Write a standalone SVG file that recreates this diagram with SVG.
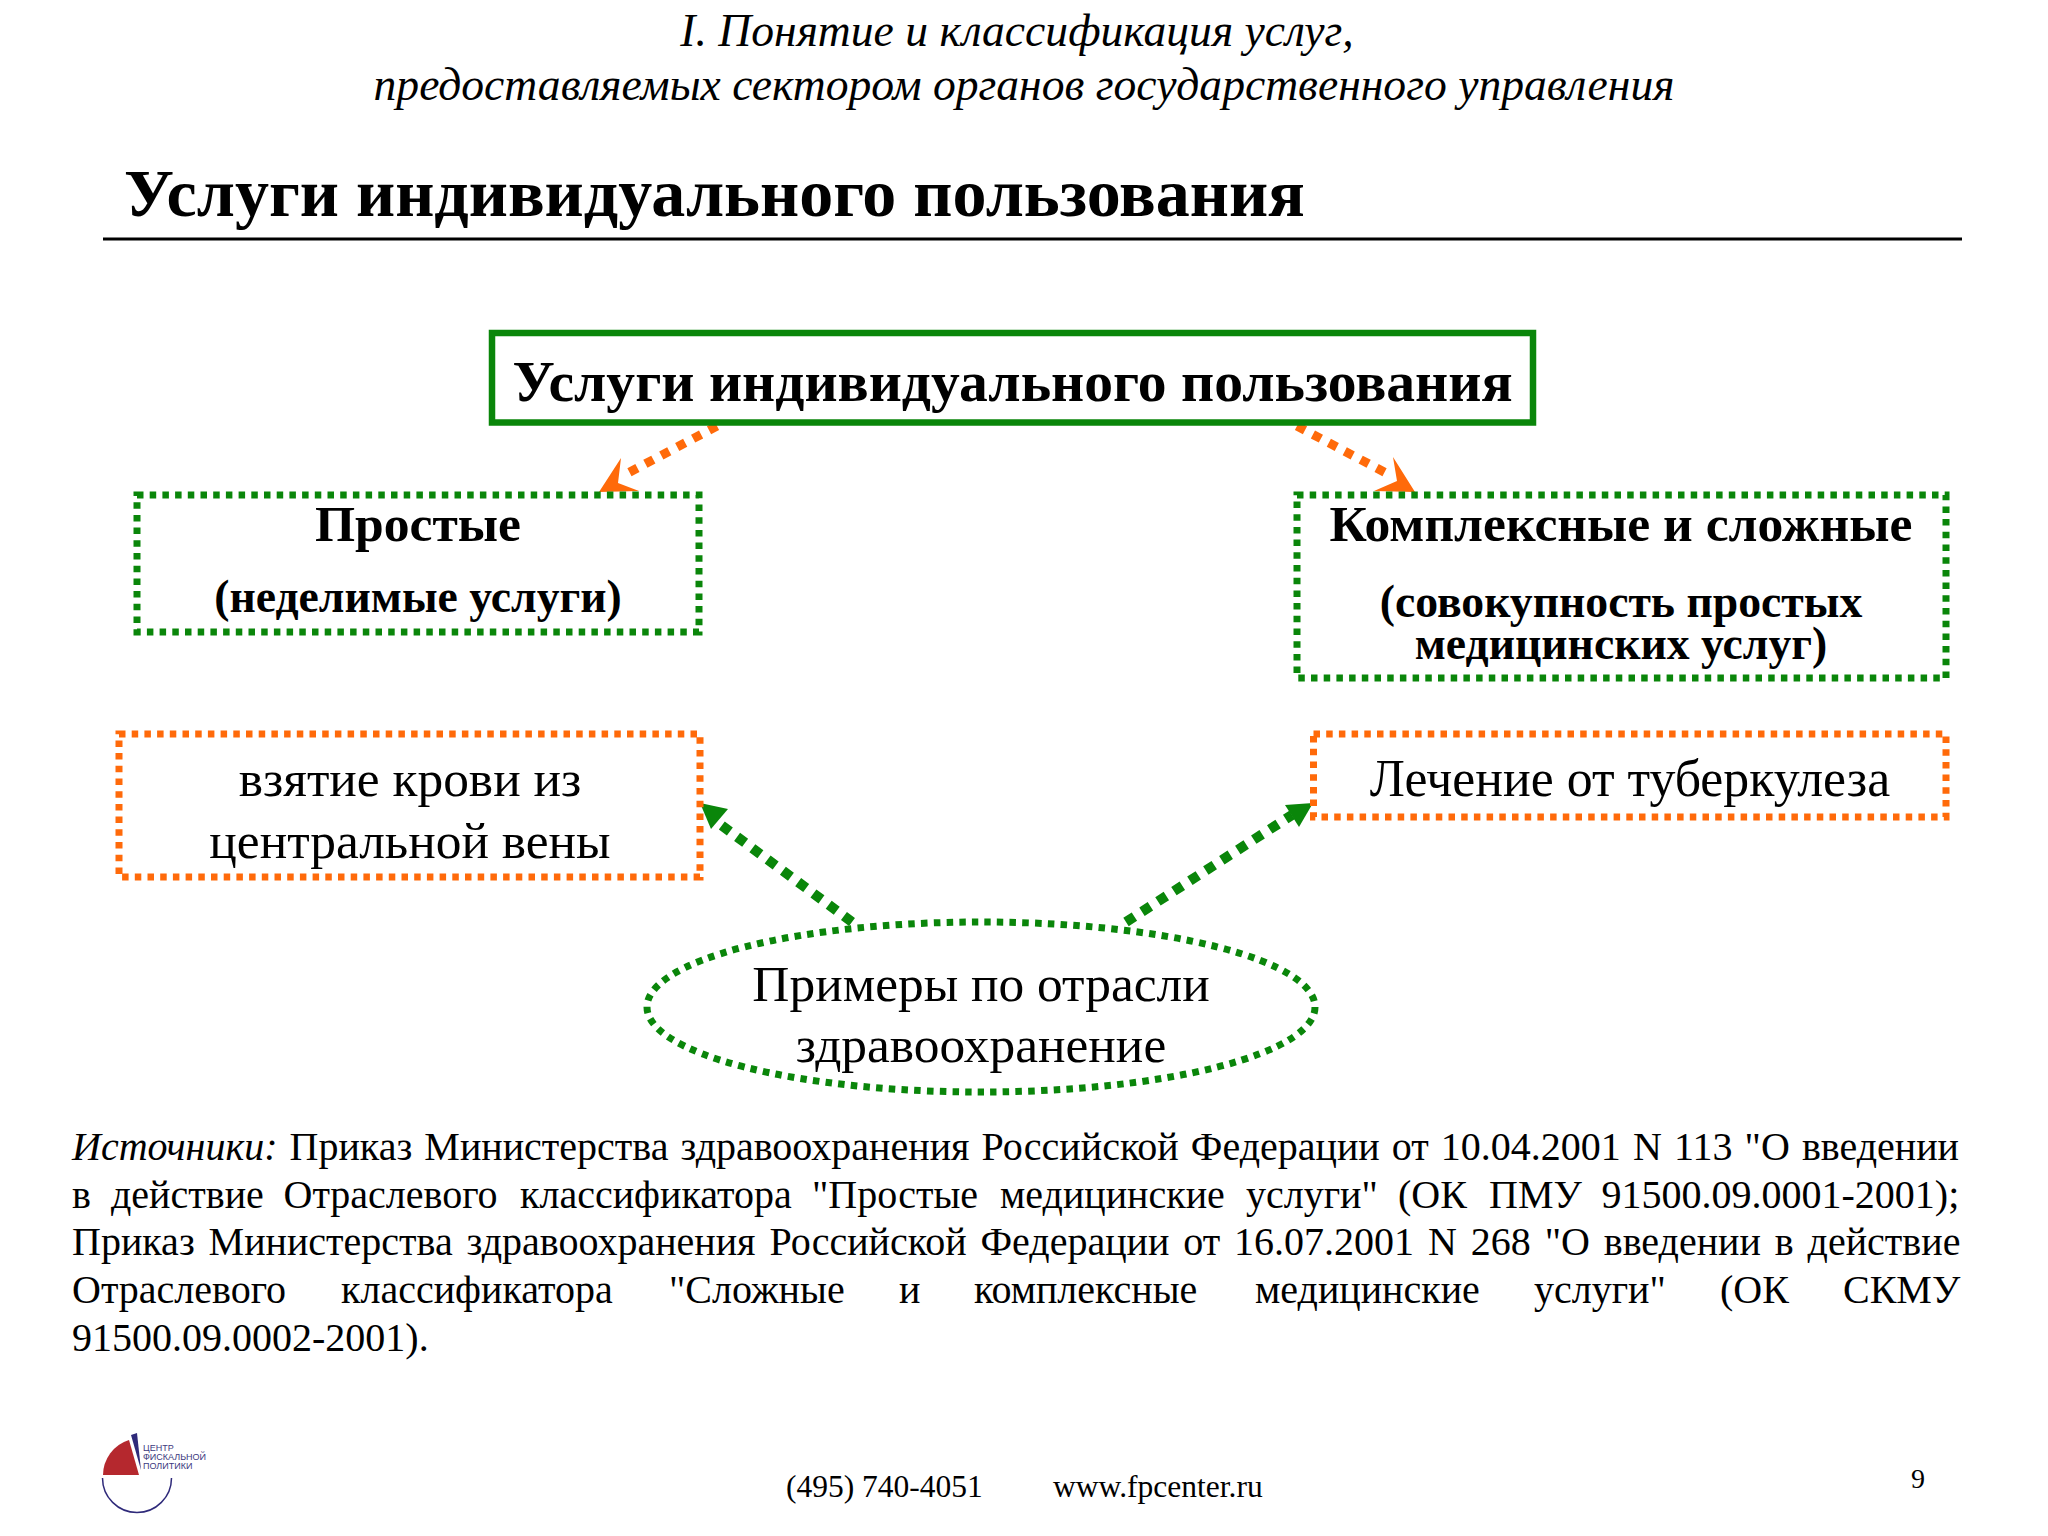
<svg xmlns="http://www.w3.org/2000/svg" width="2048" height="1536" viewBox="0 0 2048 1536">
<style>
text{font-family:"Liberation Serif","Times New Roman",serif;fill:#000}
.m{text-anchor:middle}
.b{font-weight:bold}
.t{font-style:italic;font-size:45.600px}
.n{font-size:51.400px}
.h2{font-size:51.600px;font-weight:bold}
.h3{font-size:45.700px;font-weight:bold}
.s{font-size:40px}
.g{fill:none;stroke:#0a860a;stroke-width:7;stroke-dasharray:6.500 6.200}
.o{fill:none;stroke:#ff6a0a;stroke-width:7;stroke-dasharray:6.500 6.200}
.cg{fill:none;stroke:#0a860a;stroke-width:10;stroke-dasharray:10 9}
.co{fill:none;stroke:#ff6a0a;stroke-width:9;stroke-dasharray:9 9}
.lg{font-family:"Liberation Sans",Arial,sans-serif;font-size:9px;fill:#3d3a80}
</style>
<rect width="2048" height="1536" fill="#fff"/>
<g id="header">
<text class="t m" x="1017" y="46">I. Понятие и классификация услуг,</text>
<text class="t m" x="1024" y="100">предоставляемых сектором органов государственного управления</text>
<text class="b" x="124" y="216" font-size="68">Услуги индивидуального пользования</text>
<line x1="103" y1="239" x2="1962" y2="239" stroke="#000" stroke-width="3"/>
</g>
<g id="connectors">
<line class="co" x1="717" y1="426" x2="628" y2="473"/>
<polygon points="599,492 621,458 618,483 639,491" fill="#ff6a0a"/>
<line class="co" x1="1297" y1="426" x2="1386" y2="473"/>
<polygon points="1415,492 1393,457 1397,481 1374,491" fill="#ff6a0a"/>
<line class="cg" x1="852" y1="922" x2="717" y2="822"/>
<polygon points="700,803 728,809 711,829" fill="#0a860a"/>
<line class="cg" x1="1126" y1="922" x2="1292" y2="815"/>
<polygon points="1313,803 1285,805 1299,827" fill="#0a860a"/>
</g>
<g id="node-root">
<rect x="492" y="333" width="1041" height="89.500" fill="none" stroke="#0a860a" stroke-width="6.500"/>
<text class="b m" x="1012.500" y="401" font-size="57.600">Услуги индивидуального пользования</text>
</g>
<g id="node-simple">
<rect class="g" x="137" y="495" width="562" height="137"/>
<text class="h2 m" x="418" y="541">Простые</text>
<text class="h3 m" x="418" y="612">(неделимые услуги)</text>
</g>
<g id="node-complex">
<rect class="g" x="1297" y="495" width="649" height="183"/>
<text class="h2 m" x="1621" y="541">Комплексные и сложные</text>
<text class="h3 m" x="1621" y="617">(совокупность простых</text>
<text class="h3 m" x="1621" y="659">медицинских услуг)</text>
</g>
<g id="node-blood">
<rect class="o" x="119" y="734" width="581" height="143"/>
<text class="n m" x="410" y="796">взятие крови из</text>
<text class="n m" x="410" y="858">центральной вены</text>
</g>
<g id="node-tb">
<rect class="o" x="1313.500" y="734" width="632.500" height="83"/>
<text class="n m" x="1630" y="796" font-size="51.800" style="font-size:51.800px">Лечение от туберкулеза</text>
</g>
<g id="node-examples">
<ellipse class="g" cx="981" cy="1007" rx="334" ry="85"/>
<text class="n m" x="981" y="1001">Примеры по отрасли</text>
<text class="n m" x="981" y="1062">здравоохранение</text>
</g>
<g id="sources">
<text class="s" y="1160" word-spacing="2.100"><tspan x="72" font-style="italic">Источники:</tspan> Приказ Министерства здравоохранения Российской Федерации от 10.04.2001 N 113 "О введении</text>
<text class="s" y="1208"><tspan x="72">в</tspan><tspan x="111">действие</tspan><tspan x="283.500">Отраслевого</tspan><tspan x="520">классификатора</tspan><tspan x="812">"Простые</tspan><tspan x="1000">медицинские</tspan><tspan x="1246">услуги"</tspan><tspan x="1398">(ОК</tspan><tspan x="1489">ПМУ</tspan><tspan x="1601.500">91500.09.0001-2001);</tspan></text>
<text class="s" y="1255" x="72" word-spacing="3.900">Приказ Министерства здравоохранения Российской Федерации от 16.07.2001 N 268 "О введении в действие</text>
<text class="s" y="1303"><tspan x="72">Отраслевого</tspan><tspan x="341">классификатора</tspan><tspan x="669">"Сложные</tspan><tspan x="899">и</tspan><tspan x="974">комплексные</tspan><tspan x="1255">медицинские</tspan><tspan x="1534">услуги"</tspan><tspan x="1720">(ОК</tspan><tspan x="1843">СКМУ</tspan></text>
<text class="s" y="1351" x="72">91500.09.0002-2001).</text>
</g>
<g id="footer">
<text x="786" y="1497" font-size="31.500">(495) 740-4051</text>
<text x="1053" y="1497" font-size="31.500">www.fpcenter.ru</text>
<text x="1911" y="1488" font-size="28">9</text>
</g>
<g id="logo">
<path d="M139 1475H103A37 37 0 0 1 129 1440Z" fill="#b5282e"/>
<path d="M131 1435L137 1433L141 1470Z" fill="#2f2a7a"/>
<path d="M102.500 1478A34.500 34.500 0 0 0 171.500 1478" fill="none" stroke="#2f2a7a" stroke-width="1.500"/>
<text class="lg" x="143" y="1451">ЦЕНТР</text>
<text class="lg" x="143" y="1460">ФИСКАЛЬНОЙ</text>
<text class="lg" x="143" y="1469">ПОЛИТИКИ</text>
</g>
</svg>
